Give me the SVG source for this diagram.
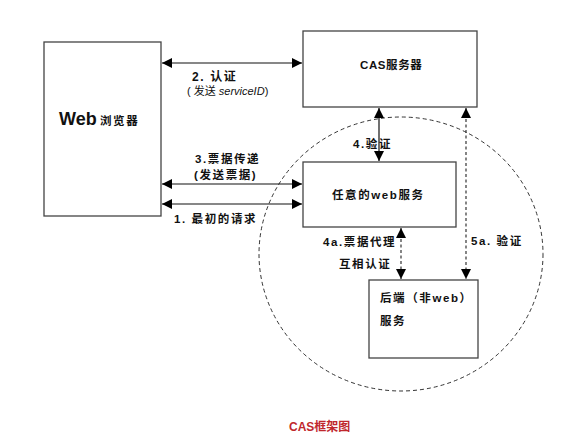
<svg xmlns="http://www.w3.org/2000/svg" width="579" height="448" viewBox="0 0 579 448">
<defs>
<marker id="ah" viewBox="0 0 10 10" refX="10" refY="5" markerWidth="10" markerHeight="10" markerUnits="userSpaceOnUse" orient="auto-start-reverse">
<path d="M0,0 L10,5 L0,10 z" fill="#000"/>
</marker>
<style>
.box{fill:#fff;stroke:#444;stroke-width:1.3}
.ln{stroke:#111;stroke-width:1.2;fill:none}
.dl{stroke:#222;stroke-width:1.1;fill:none;stroke-dasharray:3,2.5}
.t{font-family:"Liberation Sans","Noto Sans CJK SC",sans-serif;font-size:11.5px;font-weight:bold;fill:#111;letter-spacing:1.6px}
.ti{font-family:"Liberation Sans","Noto Sans CJK SC",sans-serif;font-size:11px;fill:#111}
</style>
</defs>
<rect width="579" height="448" fill="#fff"/>
<ellipse cx="401" cy="254" rx="142" ry="137" fill="none" stroke="#333" stroke-width="1" stroke-dasharray="4,3"/>
<g id="browser">
<rect class="box" x="44" y="42" width="117" height="174"/>
<text x="59" y="125" font-family="Liberation Sans,sans-serif" font-size="18" font-weight="bold" fill="#111">Web</text>
<text x="100" y="125" class="t">浏览器</text>
</g>
<g id="cas">
<rect class="box" x="303" y="31" width="174" height="76"/>
<text x="360" y="69" class="t" style="letter-spacing:0.6px">CAS服务器</text>
</g>
<g id="websvc">
<rect class="box" x="303" y="162" width="153" height="65"/>
<text x="332" y="199" class="t">任意的web服务</text>
</g>
<g id="backend">
<rect class="box" x="369" y="280" width="109" height="78"/>
<text x="380" y="302" class="t">后端（非web）</text>
<text x="380" y="325" class="t">服务</text>
</g>
<g id="connectors">
<line class="ln" x1="162" y1="63" x2="302" y2="63" marker-start="url(#ah)" marker-end="url(#ah)"/>
<line class="ln" x1="162" y1="184" x2="302" y2="184" marker-start="url(#ah)" marker-end="url(#ah)"/>
<line class="ln" x1="162" y1="204" x2="302" y2="204" marker-start="url(#ah)" marker-end="url(#ah)"/>
<line class="ln" x1="379" y1="108" x2="379" y2="161" marker-start="url(#ah)" marker-end="url(#ah)"/>
<line class="dl" x1="401" y1="228" x2="401" y2="279" marker-start="url(#ah)" marker-end="url(#ah)"/>
<line class="dl" x1="466" y1="108" x2="466" y2="279" marker-start="url(#ah)" marker-end="url(#ah)"/>
</g>
<g id="labels">
<text x="192" y="81" class="t" style="font-size:12px">2. 认证</text>
<text x="187" y="95" class="ti">( 发送 <tspan font-style="italic">serviceID</tspan>)</text>
<text x="195" y="163" class="t">3.票据传递</text>
<text x="194" y="179" class="t">(发送票据)</text>
<text x="174" y="223" class="t">1. 最初的请求</text>
<text x="353" y="148" class="t">4.验证</text>
<text x="323" y="246" class="t">4a.票据代理</text>
<text x="339" y="268" class="t">互相认证</text>
<text x="471" y="245" class="t">5a. 验证</text>
</g>
<text x="289" y="431" font-family="Liberation Sans,'Noto Sans CJK SC',sans-serif" font-size="12" font-weight="bold" fill="#c0272d">CAS框架图</text>
</svg>
